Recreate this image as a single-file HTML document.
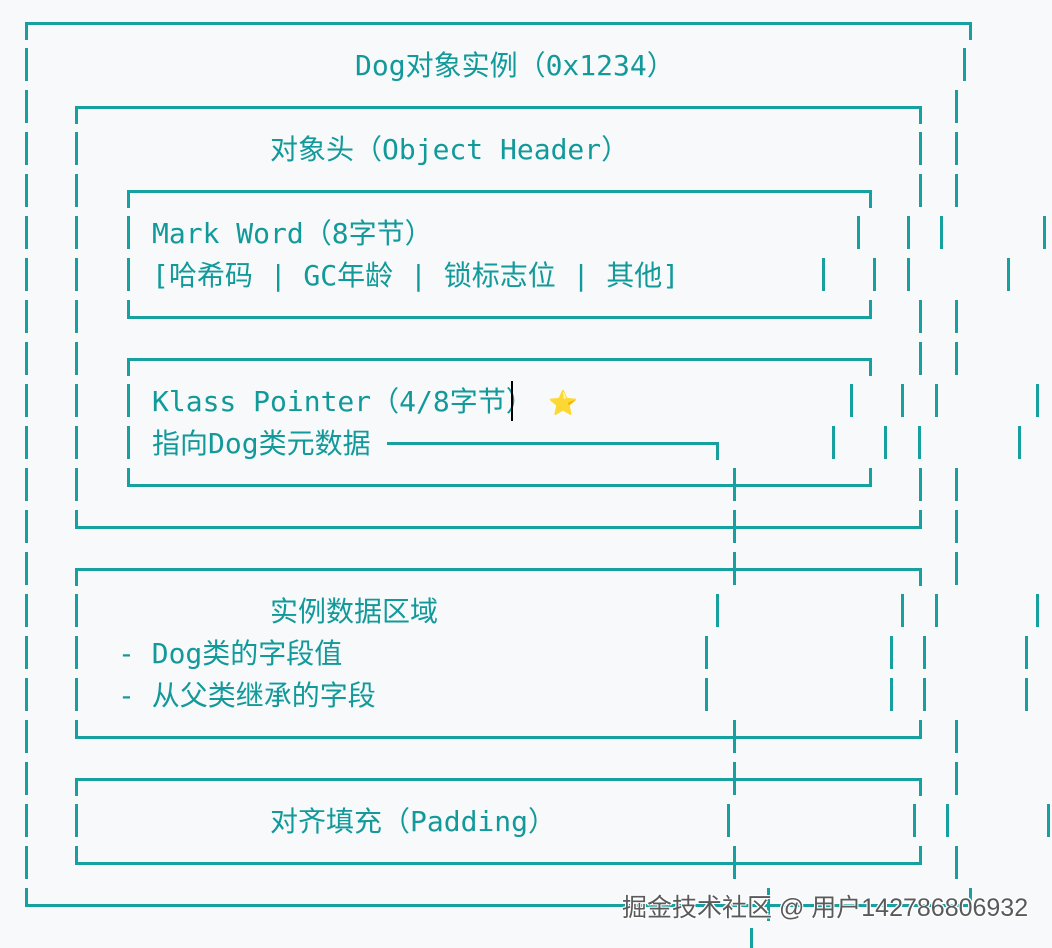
<!DOCTYPE html>
<html><head><meta charset="utf-8"><style>
html,body{margin:0;padding:0}
body{width:1052px;height:944px;background:#f7f9fb;position:relative;overflow:hidden}
.h,.v{position:absolute;background:#16a0a0}
.h{height:3px}
.v{width:3px}
.t{position:absolute;color:#12999a;font-family:"DejaVu Sans Mono","Noto Sans CJK SC",monospace;font-size:28px;line-height:32px;white-space:pre}
.w{position:absolute;left:622px;top:888px;font-family:"Liberation Sans","Noto Sans CJK SC",sans-serif;font-size:25px;color:#5a5a5a;white-space:pre;text-shadow:-1px -1px 0 #fff,1px -1px 0 #fff,-1px 1px 0 #fff,1px 1px 0 #fff}
</style></head><body>
<div class="h" style="left:25px;top:22px;width:947px"></div>
<div class="h" style="left:75px;top:106px;width:847px"></div>
<div class="h" style="left:127px;top:190px;width:745px"></div>
<div class="h" style="left:127px;top:316px;width:745px"></div>
<div class="h" style="left:127px;top:358px;width:745px"></div>
<div class="h" style="left:387px;top:442px;width:332px"></div>
<div class="h" style="left:127px;top:484px;width:745px"></div>
<div class="h" style="left:75px;top:526px;width:847px"></div>
<div class="h" style="left:75px;top:568px;width:847px"></div>
<div class="h" style="left:75px;top:736px;width:847px"></div>
<div class="h" style="left:75px;top:778px;width:847px"></div>
<div class="h" style="left:75px;top:862px;width:847px"></div>
<div class="h" style="left:25px;top:904px;width:947px"></div>

<div class="v" style="left:25px;top:22px;height:18px"></div>
<div class="v" style="left:969px;top:22px;height:18px"></div>
<div class="v" style="left:75px;top:106px;height:18px"></div>
<div class="v" style="left:919px;top:106px;height:18px"></div>
<div class="v" style="left:127px;top:190px;height:18px"></div>
<div class="v" style="left:869px;top:190px;height:18px"></div>
<div class="v" style="left:127px;top:300px;height:18px"></div>
<div class="v" style="left:869px;top:300px;height:18px"></div>
<div class="v" style="left:127px;top:358px;height:18px"></div>
<div class="v" style="left:869px;top:358px;height:18px"></div>
<div class="v" style="left:716px;top:442px;height:18px"></div>
<div class="v" style="left:127px;top:468px;height:18px"></div>
<div class="v" style="left:869px;top:468px;height:18px"></div>
<div class="v" style="left:75px;top:510px;height:18px"></div>
<div class="v" style="left:919px;top:510px;height:18px"></div>
<div class="v" style="left:75px;top:568px;height:18px"></div>
<div class="v" style="left:919px;top:568px;height:18px"></div>
<div class="v" style="left:75px;top:720px;height:18px"></div>
<div class="v" style="left:919px;top:720px;height:18px"></div>
<div class="v" style="left:75px;top:778px;height:18px"></div>
<div class="v" style="left:919px;top:778px;height:18px"></div>
<div class="v" style="left:75px;top:846px;height:18px"></div>
<div class="v" style="left:919px;top:846px;height:18px"></div>
<div class="v" style="left:25px;top:888px;height:18px"></div>
<div class="v" style="left:969px;top:888px;height:18px"></div>

<div class="v" style="left:25px;top:48px;height:33px"></div>
<div class="v" style="left:25px;top:90px;height:33px"></div>
<div class="v" style="left:25px;top:132px;height:33px"></div>
<div class="v" style="left:25px;top:174px;height:33px"></div>
<div class="v" style="left:25px;top:216px;height:33px"></div>
<div class="v" style="left:25px;top:258px;height:33px"></div>
<div class="v" style="left:25px;top:300px;height:33px"></div>
<div class="v" style="left:25px;top:342px;height:33px"></div>
<div class="v" style="left:25px;top:384px;height:33px"></div>
<div class="v" style="left:25px;top:426px;height:33px"></div>
<div class="v" style="left:25px;top:468px;height:33px"></div>
<div class="v" style="left:25px;top:510px;height:33px"></div>
<div class="v" style="left:25px;top:552px;height:33px"></div>
<div class="v" style="left:25px;top:594px;height:33px"></div>
<div class="v" style="left:25px;top:636px;height:33px"></div>
<div class="v" style="left:25px;top:678px;height:33px"></div>
<div class="v" style="left:25px;top:720px;height:33px"></div>
<div class="v" style="left:25px;top:762px;height:33px"></div>
<div class="v" style="left:25px;top:804px;height:33px"></div>
<div class="v" style="left:25px;top:846px;height:33px"></div>
<div class="v" style="left:75px;top:132px;height:33px"></div>
<div class="v" style="left:75px;top:174px;height:33px"></div>
<div class="v" style="left:75px;top:216px;height:33px"></div>
<div class="v" style="left:75px;top:258px;height:33px"></div>
<div class="v" style="left:75px;top:300px;height:33px"></div>
<div class="v" style="left:75px;top:342px;height:33px"></div>
<div class="v" style="left:75px;top:384px;height:33px"></div>
<div class="v" style="left:75px;top:426px;height:33px"></div>
<div class="v" style="left:75px;top:468px;height:33px"></div>
<div class="v" style="left:75px;top:594px;height:33px"></div>
<div class="v" style="left:75px;top:636px;height:33px"></div>
<div class="v" style="left:75px;top:678px;height:33px"></div>
<div class="v" style="left:75px;top:804px;height:33px"></div>
<div class="v" style="left:127px;top:216px;height:33px"></div>
<div class="v" style="left:127px;top:258px;height:33px"></div>
<div class="v" style="left:127px;top:384px;height:33px"></div>
<div class="v" style="left:127px;top:426px;height:33px"></div>

<div class="v" style="left:963px;top:48px;height:33px"></div>
<div class="v" style="left:955px;top:90px;height:33px"></div>
<div class="v" style="left:919px;top:132px;height:33px"></div><div class="v" style="left:955px;top:132px;height:33px"></div>
<div class="v" style="left:919px;top:174px;height:33px"></div><div class="v" style="left:955px;top:174px;height:33px"></div>
<div class="v" style="left:857px;top:216px;height:33px"></div><div class="v" style="left:907px;top:216px;height:33px"></div><div class="v" style="left:940px;top:216px;height:33px"></div><div class="v" style="left:1043px;top:216px;height:33px"></div>
<div class="v" style="left:822px;top:258px;height:33px"></div><div class="v" style="left:873px;top:258px;height:33px"></div><div class="v" style="left:907px;top:258px;height:33px"></div><div class="v" style="left:1007px;top:258px;height:33px"></div>
<div class="v" style="left:919px;top:300px;height:33px"></div><div class="v" style="left:955px;top:300px;height:33px"></div>
<div class="v" style="left:919px;top:342px;height:33px"></div><div class="v" style="left:955px;top:342px;height:33px"></div>
<div class="v" style="left:850px;top:384px;height:33px"></div><div class="v" style="left:901px;top:384px;height:33px"></div><div class="v" style="left:935px;top:384px;height:33px"></div><div class="v" style="left:1036px;top:384px;height:33px"></div>
<div class="v" style="left:832px;top:426px;height:33px"></div><div class="v" style="left:884px;top:426px;height:33px"></div><div class="v" style="left:918px;top:426px;height:33px"></div><div class="v" style="left:1018px;top:426px;height:33px"></div>
<div class="v" style="left:733px;top:468px;height:33px"></div><div class="v" style="left:919px;top:468px;height:33px"></div><div class="v" style="left:955px;top:468px;height:33px"></div>
<div class="v" style="left:733px;top:510px;height:33px"></div><div class="v" style="left:955px;top:510px;height:33px"></div>
<div class="v" style="left:733px;top:552px;height:33px"></div><div class="v" style="left:955px;top:552px;height:33px"></div>
<div class="v" style="left:716px;top:594px;height:33px"></div><div class="v" style="left:901px;top:594px;height:33px"></div><div class="v" style="left:935px;top:594px;height:33px"></div><div class="v" style="left:1036px;top:594px;height:33px"></div>
<div class="v" style="left:705px;top:636px;height:33px"></div><div class="v" style="left:890px;top:636px;height:33px"></div><div class="v" style="left:923px;top:636px;height:33px"></div><div class="v" style="left:1025px;top:636px;height:33px"></div>
<div class="v" style="left:705px;top:678px;height:33px"></div><div class="v" style="left:890px;top:678px;height:33px"></div><div class="v" style="left:923px;top:678px;height:33px"></div><div class="v" style="left:1025px;top:678px;height:33px"></div>
<div class="v" style="left:733px;top:720px;height:33px"></div><div class="v" style="left:955px;top:720px;height:33px"></div>
<div class="v" style="left:733px;top:762px;height:33px"></div><div class="v" style="left:955px;top:762px;height:33px"></div>
<div class="v" style="left:727px;top:804px;height:33px"></div><div class="v" style="left:913px;top:804px;height:33px"></div><div class="v" style="left:946px;top:804px;height:33px"></div><div class="v" style="left:1047px;top:804px;height:33px"></div>
<div class="v" style="left:733px;top:846px;height:33px"></div><div class="v" style="left:955px;top:846px;height:33px"></div>
<div class="v" style="left:767px;top:888px;height:33px"></div>
<div class="v" style="left:750px;top:928px;height:20px"></div>

<div class="t" style="left:355px;top:50px">Dog对象实例（0x1234）</div>
<div class="t" style="left:270px;top:134px">对象头（Object Header）</div>
<div class="t" style="left:152px;top:218px">Mark Word（8字节）</div>
<div class="t" style="left:152px;top:260px">[哈希码 | GC年龄 | 锁标志位 | 其他]</div>
<div class="t" style="left:152px;top:386px">Klass Pointer（4/8字节）<span style="font-size:24px"> ⭐</span></div>
<div style="position:absolute;left:511px;top:381px;width:2px;height:40px;background:#000"></div>
<div class="t" style="left:152px;top:428px">指向Dog类元数据</div>
<div class="t" style="left:270px;top:596px">实例数据区域</div>
<div class="t" style="left:118px;top:638px">- Dog类的字段值</div>
<div class="t" style="left:118px;top:680px">- 从父类继承的字段</div>
<div class="t" style="left:270px;top:806px">对齐填充（Padding）</div>
<div class="w">掘金技术社区 @ 用户142786806932</div>
</body></html>
